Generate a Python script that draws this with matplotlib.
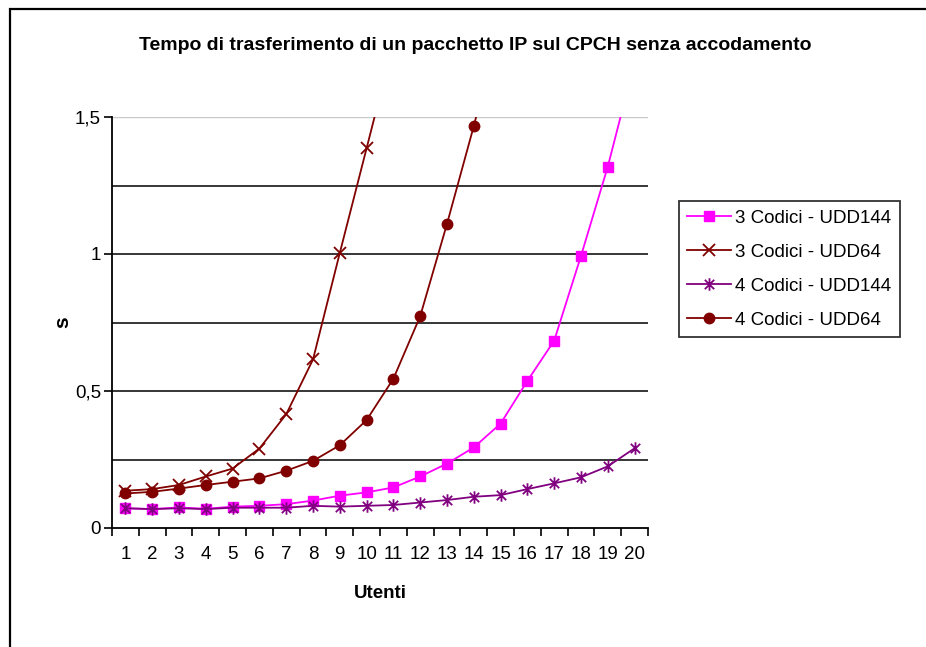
import matplotlib
matplotlib.use("Agg")
import matplotlib.pyplot as plt
from matplotlib import font_manager
from matplotlib.patches import Rectangle
from matplotlib.path import Path
from matplotlib.ticker import FixedLocator, FuncFormatter
import numpy as np

# ---------------- data ----------------
UTENTI = list(range(1, 21))
C3_UDD144 = [0.072, 0.069, 0.075, 0.070, 0.078, 0.081, 0.087, 0.100, 0.118, 0.130,
             0.148, 0.188, 0.235, 0.294, 0.381, 0.537, 0.684, 0.993, 1.319, 1.70]
C3_UDD64 = [0.136, 0.142, 0.157, 0.188, 0.217, 0.290, 0.415, 0.615, 1.004, 1.386, 1.77]
C4_UDD144 = [0.072, 0.069, 0.072, 0.069, 0.074, 0.074, 0.074, 0.081, 0.078, 0.081,
             0.084, 0.093, 0.102, 0.114, 0.120, 0.142, 0.163, 0.185, 0.225, 0.291]
C4_UDD64 = [0.126, 0.132, 0.144, 0.157, 0.169, 0.181, 0.209, 0.245, 0.302, 0.394,
            0.545, 0.773, 1.110, 1.467, 1.85]
LABELS = ["3 Codici - UDD144", "3 Codici - UDD64", "4 Codici - UDD144", "4 Codici - UDD64"]
TITLE = "Tempo di trasferimento di un pacchetto IP sul CPCH senza accodamento"

installed = {f.name for f in font_manager.fontManager.ttflist}
BASE = "Liberation Sans" if "Liberation Sans" in installed else "DejaVu Sans"
plt.rcParams["font.family"] = [BASE, "DejaVu Sans"]

# Excel-style asterisk: X plus a vertical bar
ASTER = Path([(0, -1), (0, 1), (-0.75, -0.75), (0.75, 0.75), (-0.75, 0.75), (0.75, -0.75)],
             [Path.MOVETO, Path.LINETO, Path.MOVETO, Path.LINETO, Path.MOVETO, Path.LINETO])

fig = plt.figure(figsize=(9.26, 6.47), dpi=100)
ax = fig.add_axes([112 / 926, 1 - 528 / 647, 536 / 926, 411 / 647])

# outer chart border (runs off the right/bottom edge)
fig.patches.append(Rectangle((10 / 926, -0.1), 1.2, 1 - 9 / 647 + 0.1, transform=fig.transFigure,
                             fill=False, ec="black", lw=1.6, zorder=0))

for y in [0.25, 0.5, 0.75, 1.0, 1.25]:
    ax.axhline(y, color="black", lw=1.1, zorder=1)
ax.axhline(1.5, color="#c8c8c8", lw=1.0, zorder=1)

def xs(vals):
    return UTENTI[:len(vals)]

ax.plot(xs(C3_UDD144), C3_UDD144, color="#ff00ff", lw=1.3, marker="s", ms=7.5,
        mec="#ff00ff", mfc="#ff00ff", label=LABELS[0], zorder=3)
ax.plot(xs(C3_UDD64), C3_UDD64, color="#800000", lw=1.3, marker="x", ms=8, mew=1.3,
        label=LABELS[1], zorder=3)
ax.plot(xs(C4_UDD144), C4_UDD144, color="#800080", lw=1.3, marker=ASTER, ms=9, mew=1.3,
        mec="#800080", label=LABELS[2], zorder=4)
ax.plot(xs(C4_UDD64), C4_UDD64, color="#800000", lw=1.3, marker="o", ms=7.5,
        mec="#800000", mfc="#800000", label=LABELS[3], zorder=3)

ax.set_xlim(0.5, 20.5)
ax.set_ylim(0, 1.5)
for s in ["top", "right"]:
    ax.spines[s].set_visible(False)
for s in ["left", "bottom"]:
    ax.spines[s].set_linewidth(1.3)

ax.set_yticks([0, 0.5, 1, 1.5])
ax.yaxis.set_major_formatter(FuncFormatter(lambda v, p: f"{v:g}".replace(".", ",")))
ax.tick_params(axis="y", direction="out", length=6, width=1.2, labelsize=13.5, pad=2)

ax.set_xticks(UTENTI)
ax.set_xticklabels([str(u) for u in UTENTI])
ax.xaxis.set_minor_locator(FixedLocator(np.arange(0.5, 21, 1)))
ax.tick_params(axis="x", which="major", length=0, labelsize=13.5, pad=13)
ax.tick_params(axis="x", which="minor", direction="out", length=6, width=1.2)

ax.set_xlabel("Utenti", fontsize=13.5, fontweight="bold", labelpad=16)
ax.set_ylabel("s", fontsize=15, fontweight="bold", labelpad=2)

fig.text(475 / 926, 1 - 46 / 647, TITLE, ha="center", va="center", fontsize=14,
         fontweight="bold")

leg = ax.legend(loc="upper left", bbox_to_anchor=(679 / 926, 1 - 201 / 647),
                bbox_transform=fig.transFigure, fontsize=13.5, frameon=True, fancybox=False,
                borderaxespad=0, handlelength=2.3, handletextpad=0.25, labelspacing=0.9,
                borderpad=0.45)
leg.get_frame().set_edgecolor("black")
leg.get_frame().set_linewidth(1.3)

fig.savefig("out.png", dpi=100)
